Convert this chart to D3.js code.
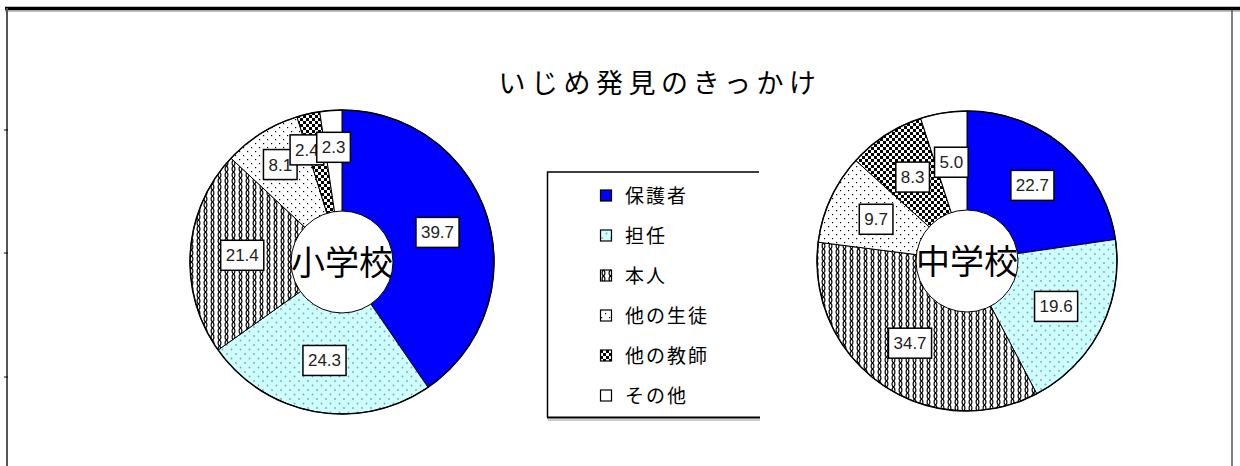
<!DOCTYPE html>
<html>
<head>
<meta charset="utf-8">
<script src="https://cdn.jsdelivr.net/npm/d3@7"></script>
<style>
  html, body { margin: 0; padding: 0; background: #fff; }
  svg { display: block; }
</style>
</head>
<body>
<svg id="chart" width="1240" height="466"></svg>
<script>
const title = 'いじめ発見のきっかけ';
const categories = ['保護者', '担任', '本人', '他の生徒', '他の教師', 'その他'];
const schools = ['小学校', '中学校'];
const elementary = [39.7, 24.3, 21.4, 8.1, 2.4, 2.3];
const juniorHigh = [22.7, 19.6, 34.7, 9.7, 8.3, 5.0];

const svg = d3.select('#chart');
const defs = svg.append('defs');

//patterns for the slices
const pCyan = defs.append('pattern').attr('id', 'p-cyan')
  .attr('patternUnits', 'userSpaceOnUse').attr('width', 9).attr('height', 9);
pCyan.append('rect').attr('width', 9).attr('height', 9).attr('fill', '#ccffff');
pCyan.append('circle').attr('cx', 2).attr('cy', 2).attr('r', 0.9).attr('fill', '#9a9a9a');
pCyan.append('circle').attr('cx', 6.5).attr('cy', 6.5).attr('r', 0.9).attr('fill', '#9a9a9a');

const pWave = defs.append('pattern').attr('id', 'p-wave')
  .attr('patternUnits', 'userSpaceOnUse').attr('width', 7).attr('height', 6);
pWave.append('rect').attr('width', 7).attr('height', 6).attr('fill', '#fff');
pWave.append('path')
  .attr('d', 'M3.5,0 C1.6,1.5 1.6,4.5 3.5,6 M3.5,0 C5.4,1.5 5.4,4.5 3.5,6')
  .attr('fill', 'none').attr('stroke', '#000').attr('stroke-width', 1.2);

const pDots = defs.append('pattern').attr('id', 'p-dots')
  .attr('patternUnits', 'userSpaceOnUse').attr('width', 8).attr('height', 8);
pDots.append('rect').attr('width', 8).attr('height', 8).attr('fill', '#fff');
pDots.append('rect').attr('x', 1).attr('y', 1).attr('width', 1.2).attr('height', 1.2).attr('fill', '#000');
pDots.append('rect').attr('x', 5).attr('y', 5).attr('width', 1.2).attr('height', 1.2).attr('fill', '#000');

const pCheck = defs.append('pattern').attr('id', 'p-check')
  .attr('patternUnits', 'userSpaceOnUse').attr('width', 6).attr('height', 6);
pCheck.append('rect').attr('width', 6).attr('height', 6).attr('fill', '#fff');
pCheck.append('rect').attr('width', 3).attr('height', 3).attr('fill', '#000');
pCheck.append('rect').attr('x', 3).attr('y', 3).attr('width', 3).attr('height', 3).attr('fill', '#000');

const color = d3.scaleOrdinal()
  .domain(categories)
  .range(['#0000ff', 'url(#p-cyan)', 'url(#p-wave)', 'url(#p-dots)', 'url(#p-check)', '#ffffff']);

//frame
svg.append('line').attr('x1', 5).attr('x2', 1240).attr('y1', 8.5).attr('y2', 8.5)
  .attr('stroke', '#000').attr('stroke-width', 3.5);
svg.append('line').attr('x1', 5).attr('x2', 1240).attr('y1', 11).attr('y2', 11)
  .attr('stroke', '#888').attr('stroke-width', 1);
svg.append('line').attr('x1', 7).attr('x2', 7).attr('y1', 8).attr('y2', 466)
  .attr('stroke', '#555').attr('stroke-width', 2);
svg.append('line').attr('x1', 1232).attr('x2', 1232).attr('y1', 10).attr('y2', 466)
  .attr('stroke', '#555').attr('stroke-width', 1.5);
[130, 253, 377].forEach(t => {
  svg.append('line').attr('x1', 4).attr('x2', 8).attr('y1', t).attr('y2', t)
    .attr('stroke', '#000').attr('stroke-width', 1);
});

//title
svg.append('text')
  .attr('x', 660).attr('y', 93)
  .attr('text-anchor', 'middle')
  .style('font-family', '"Noto Sans CJK JP", sans-serif')
  .style('font-size', '27px')
  .style('letter-spacing', '5.5px')
  .attr('fill', '#000')
  .text(title);

const pie = d3.pie().sort(null).value(d => d);

const drawPie = (values, name, cx, cy, r, outerFrom) => {
  const g = svg.append('g').attr('transform', `translate(${cx},${cy})`);
  const arcs = pie(values);
  const arc = d3.arc().innerRadius(0).outerRadius(r);

  g.selectAll('path.slice')
    .data(arcs)
    .enter()
    .append('path')
    .attr('class', 'slice')
    .attr('d', arc)
    .attr('fill', (d, i) => color(categories[i]))
    .attr('stroke', '#000')
    .attr('stroke-width', 1);

  g.append('circle').attr('r', r).attr('fill', 'none')
    .attr('stroke', '#000').attr('stroke-width', 1.5);

  //center hole
  g.append('circle').attr('r', 51).attr('fill', '#fff')
    .attr('stroke', '#000').attr('stroke-width', 1);
  g.append('text')
    .attr('y', 13)
    .attr('text-anchor', 'middle')
    .style('font-family', '"Noto Sans CJK JP", sans-serif')
    .style('font-size', '34px')
    .attr('fill', '#000')
    .text(name);

  //value labels
  const labels = arcs.map((d, i) => {
    const lr = i >= outerFrom ? 115 : 100;
    const [lx, ly] = d3.arc().innerRadius(lr).outerRadius(lr).centroid(d);
    const lg = g.append('g');
    const rect = lg.append('rect').attr('fill', '#fff').attr('stroke', '#000').attr('stroke-width', 1.5);
    const txt = lg.append('text')
      .attr('y', 6)
      .attr('text-anchor', 'middle')
      .style('font-family', '"Liberation Sans", sans-serif')
      .style('font-size', '17px')
      .attr('fill', '#222')
      .text(d.data.toFixed(1));
    const tw = txt.node().getComputedTextLength();
    const w = tw + 10;
    rect.attr('x', -w / 2).attr('y', -15).attr('width', w).attr('height', 30);
    return { lg, x: lx, y: ly, tw };
  });

  //push crowded labels left so their numbers stay readable
  for (let i = labels.length - 2; i >= 0; i--) {
    const a = labels[i], b = labels[i + 1];
    if (Math.abs(a.y - b.y) > 24) continue;
    const gap = (b.x - b.tw / 2) - (a.x + a.tw / 2) - 3;
    if (gap < 0) a.x += gap;
  }
  labels.forEach(l => l.lg.attr('transform', `translate(${l.x},${l.y})`));
};

drawPie(elementary, schools[0], 342, 262, 152, 3);
drawPie(juniorHigh, schools[1], 967, 261, 150, 6);

//legend
const legend = svg.append('g');
legend.append('path')
  .attr('d', 'M759,172 H547.5 V417')
  .attr('fill', 'none').attr('stroke', '#000').attr('stroke-width', 1.5);
legend.append('line').attr('x1', 547).attr('x2', 760).attr('y1', 417.5).attr('y2', 417.5)
  .attr('stroke', '#000').attr('stroke-width', 2);
legend.append('line').attr('x1', 548).attr('x2', 760).attr('y1', 420).attr('y2', 420)
  .attr('stroke', '#999').attr('stroke-width', 1);

const row = d3.scaleBand().domain(categories).range([176, 416]);

const items = legend.selectAll('g.item')
  .data(categories)
  .enter()
  .append('g')
  .attr('class', 'item')
  .attr('transform', d => `translate(600,${row(d) + row.bandwidth() / 2})`);

items.append('rect')
  .attr('x', 0.5).attr('y', -6).attr('width', 11).attr('height', 11)
  .attr('fill', d => color(d))
  .attr('stroke', '#000').attr('stroke-width', 1.2);

items.append('text')
  .attr('x', 25).attr('y', 7)
  .style('font-family', '"Noto Sans CJK JP", sans-serif')
  .style('font-size', '19px')
  .style('letter-spacing', '2px')
  .attr('fill', '#000')
  .text(d => d);
</script>
</body>
</html>
